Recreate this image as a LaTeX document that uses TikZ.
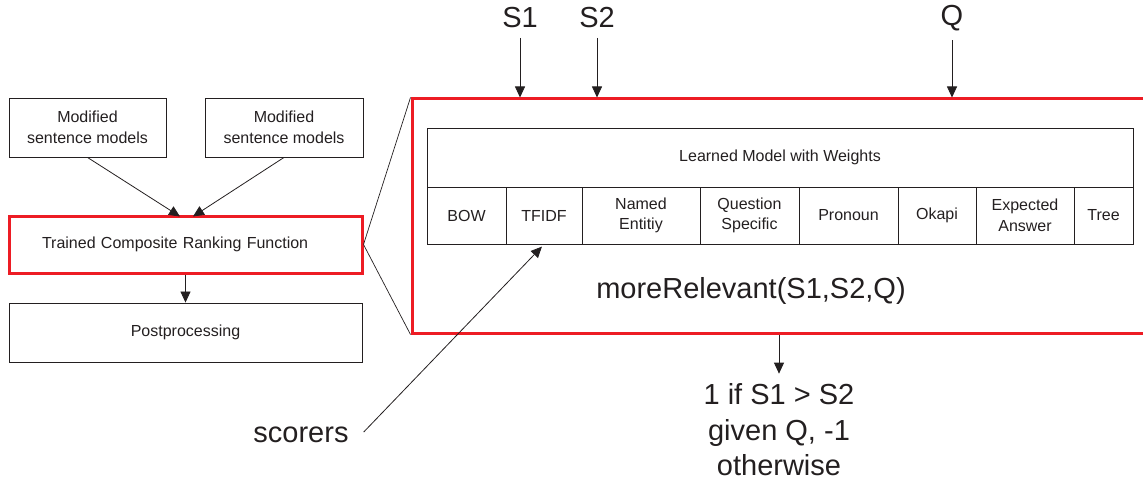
\documentclass[tikz,border=0pt]{standalone}
\usepackage{fontspec}
\setmainfont{Liberation Sans}
\usetikzlibrary{arrows.meta}
\definecolor{frame}{RGB}{237,28,36}
\definecolor{ink}{RGB}{35,31,32}
\tikzset{
  smalltext/.style={font=\fontsize{16}{20.5}\selectfont, text=ink, align=center},
  bigtext/.style={font=\fontsize{29}{35.5}\selectfont, text=ink, align=center},
  plainbox/.style={draw=ink, line width=0.9pt, smalltext, inner sep=0pt},
  redbox/.style={draw=frame, line width=3pt, inner sep=0pt},
  cell/.style={plainbox, minimum height=57pt},
  arr/.style={draw=ink, line width=0.8pt, -{Triangle[length=11pt,width=10pt]}},
  link/.style={draw=ink, line width=0.7pt}
}
\begin{document}
\begin{tikzpicture}[x=1pt,y=-1pt]
\useasboundingbox (0,0) rectangle (1143,484);
\clip (0,0) rectangle (1143,484);

% left-hand pipeline
\node[plainbox, minimum width=157pt, minimum height=59pt] (m1) at (87.5,127.5) {Modified\\sentence models};
\node[plainbox, minimum width=158pt, minimum height=59pt] (m2) at (284,127.5) {Modified\\sentence models};
\node[redbox, smalltext, align=left, inner xsep=33pt, text width=287pt, minimum height=57pt] (rank) at (185.5,244.5) {Trained Composite Ranking Function};
\node[plainbox, minimum width=353pt, minimum height=59pt] (post) at (185.5,332.5) {Postprocessing};

\draw[arr] (m1.south) -- ([xshift=-5.5pt,yshift=-2pt]rank.north);
\draw[arr] (m2.south) -- ([xshift=7.5pt,yshift=-2pt]rank.north);
\draw[arr] (rank.south) -- (post.north);

% expanded view of the ranking function
\node[redbox, minimum width=738pt, minimum height=234pt] (big) at (781,216) {};
\draw[link] (rank.east) -- (big.north west);
\draw[link] (rank.east) -- (big.south west);

% learned model table
\node[plainbox, minimum width=706pt, minimum height=59pt] (head) at (780,157.5) {Learned Model with Weights};
\node[cell, minimum width=79pt]  (bow)   at (466.5,215.5) {BOW};
\node[cell, minimum width=76pt]  (tfidf) at (544,215.5)   {TFIDF};
\node[cell, minimum width=118pt] (named) at (641,215.5)   {Named\\Entitiy};
\node[cell, minimum width=99pt]  (quest) at (749.5,215.5) {Question\\Specific};
\node[cell, minimum width=99pt]  (pron)  at (848.5,215.5) {Pronoun};
\node[cell, minimum width=78pt]  (okapi) at (937,215.5)   {Okapi};
\node[cell, minimum width=98pt]  (expa)  at (1025,215.5)  {Expected\\Answer};
\node[cell, minimum width=59pt]  (tree)  at (1103.5,215.5){Tree};

\node[bigtext] (fn) at (751,291) {moreRelevant(S1,S2,Q)};

% inputs
\node[bigtext] (s1) at (520,18) {S1};
\node[bigtext] (s2) at (597,18) {S2};
\node[bigtext] (q)  at (952,18) {Q};
\draw[arr, shorten <=6pt] (s1.south) -- (s1.south |- big.north);
\draw[arr, shorten <=6pt] (s2.south) -- (s2.south |- big.north);
\draw[arr, shorten <=6pt] (q.south) -- (q.south |- big.north);

% output
\node[bigtext, inner sep=0pt] (res) at (779,430) {1 if S1 > S2\\given Q, -1\\otherwise};
\draw[arr, shorten >=10pt] (big.south -| res.north) -- (res.north);

% scorers annotation
\node[bigtext, inner xsep=15pt] (sc) at (301,435) {scorers};
\draw[arr, shorten >=3pt] ([yshift=3pt]sc.east) -- (tfidf.south);
\end{tikzpicture}
\end{document}
